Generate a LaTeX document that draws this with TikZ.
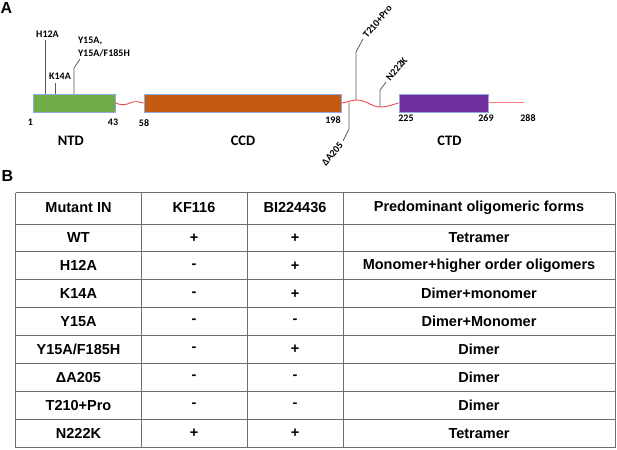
\documentclass[tikz,border=0pt]{standalone}
\usepackage{fontspec}
\setmainfont{Liberation Sans}
\newfontfamily\calibri{Carlito}
\usetikzlibrary{positioning,calc}
\definecolor{ntdgreen}{HTML}{70AD47}
\definecolor{ccdorange}{HTML}{C55A11}
\definecolor{ctdpurple}{HTML}{7030A0}
\definecolor{boxedge}{HTML}{8FAADC}
\definecolor{linkred}{HTML}{EE4B4B}
\definecolor{tailpink}{HTML}{FF7A7A}
\definecolor{stemgray}{HTML}{595959}
\definecolor{gridgray}{HTML}{6E6E6E}
\tikzstyle{every node}=[inner sep=1pt]
\tikzstyle{domainbox} = [draw=boxedge,line width=0.8pt,minimum height=18pt,inner sep=0pt]
\tikzstyle{mutlabel} = [font=\calibri\bfseries\fontsize{10}{13}\selectfont,outer sep=2pt]
\tikzstyle{numlabel} = [font=\calibri\bfseries\fontsize{10}{12}\selectfont]
\tikzstyle{domlabel} = [font=\calibri\bfseries\fontsize{14.5}{16}\selectfont]
\tikzstyle{panellabel} = [font=\bfseries\fontsize{16}{18}\selectfont]
\tikzstyle{stemline} = [draw=stemgray,line width=0.8pt]
\tikzstyle{linker} = [draw=linkred,line width=0.9pt]
\tikzstyle{cellbox} = [font=\bfseries\fontsize{14.5}{16}\selectfont]
\tikzstyle{gridline} = [draw=gridgray,line width=0.9pt]

\begin{document}
\begin{tikzpicture}[x=1pt,y=-1pt]
\useasboundingbox (0,0) rectangle (617,449);

% panel labels
\node[panellabel] (panela) at (6.5,7.5) {A};
\node[panellabel] (panelb) at (7.5,176) {B};

% domains
\node[domainbox,fill=ntdgreen,minimum width=82pt] (ntd) at (74,103) {};
\node[domainbox,fill=ccdorange,minimum width=197pt] (ccd) at (242.5,103) {};
\node[domainbox,fill=ctdpurple,minimum width=89pt] (ctd) at (443.5,103) {};
\coordinate (cterm) at (524,103);

% linkers
\draw[linker] (ntd.east) .. controls (120,105) and (125,105.5) .. (130,103)
  .. controls (135,100.5) and (139,102) .. (ccd.west);
\draw[linker] (ccd.east) .. controls (347,102.5) and (351,100) .. (357,100)
  .. controls (366,100) and (372,107) .. (380,107)
  .. controls (388,107) and (394,104) .. (ctd.west);
\draw[draw=tailpink,line width=1pt] (ctd.east) -- (cterm);

% residue numbers
\node[numlabel] (p1) at (30.5,122.7) {1};
\node[numlabel] (p43) at (113,122.7) {43};
\node[numlabel] (p58) at (144,122.7) {58};
\node[numlabel] (p198) at (333,120.3) {198};
\node[numlabel] (p225) at (406,118.3) {225};
\node[numlabel] (p269) at (486,118.3) {269};
\node[numlabel] (p288) at (528,118.3) {288};

% domain names
\node[domlabel] (ntdlab) at (70.8,140.5) {NTD};
\node[domlabel] (ccdlab) at (243,140.5) {CCD};
\node[domlabel] (ctdlab) at (449.5,140.5) {CTD};

% mutations
\coordinate (s12) at (45,94);
\coordinate (s14) at (55,94);
\coordinate (s15) at (74,94);
\coordinate (s205) at (349,102.5);
\coordinate (s210) at (356,100);
\coordinate (s222) at (380,107);

\node[mutlabel] (h12a) at (47.5,34) {H12A};
\node[mutlabel] (k14a) at (60,76.3) {K14A};
\node[mutlabel,align=left,anchor=south west] (y15a) at (75,60) {Y15A,\\Y15A/F185H};
\node[mutlabel,rotate=50,anchor=west] (t210) at (363,39) {T210+Pro};
\node[mutlabel,rotate=50,anchor=west] (n222k) at (386,82) {N222K};
\node[mutlabel,rotate=50,anchor=east] (d205) at (343,141) {ΔA205};

\draw[stemline] (s12) -- (s12 |- h12a.south);
\draw[stemline] (s14) -- (s14 |- k14a.south);
\draw[stemline] (s15) -- ++(0,-26) -- ($(y15a.south west)+(5,-1)$);
\draw[stemline] (s210) -- ++(0,-48) -- (t210.west);
\draw[stemline] (s222) -- ++(0,-17) -- (n222k.west);
\draw[stemline] (s205) -- ++(0,26.5) -- (d205.east);

% table
\foreach \c in {15.5,141.5,247,343,615}
  \draw[gridline] (\c,192.5) -- (\c,447.5);
\draw[gridline] (15.5,192.5) -- (615,192.5);
\foreach \r in {0,...,8}
  \draw[gridline] (15.5,{224+27.9*\r}) -- (615,{224+27.9*\r});

\node[cellbox] (hmut) at (78.5,208) {Mutant IN};
\node[cellbox] (hkf) at (194,208) {KF116};
\node[cellbox] (hbi) at (295,208) {BI224436};
\node[cellbox] (hform) at (479,208) {Predominant oligomeric forms};

\foreach \mut/\kf/\bi/\form [count=\i] in {
    WT/+/+/Tetramer,
    H12A/-/+/Monomer+higher order oligomers,
    K14A/-/+/Dimer+monomer,
    Y15A/-/-/Dimer+Monomer,
    {Y15A/F185H}/-/+/Dimer,
    ΔA205/-/-/Dimer,
    T210+Pro/-/-/Dimer,
    N222K/+/+/Tetramer} {
  \node[cellbox] (mut\i) at (78.5,{224+27.9*(\i-0.5)}) {\mut};
  \node[cellbox] (kf\i) at (194,{224+27.9*(\i-0.5)}) {\kf};
  \node[cellbox] (bi\i) at (295,{224+27.9*(\i-0.5)}) {\bi};
  \node[cellbox] (form\i) at (479,{224+27.9*(\i-0.5)}) {\form};
}

\end{tikzpicture}
\end{document}
